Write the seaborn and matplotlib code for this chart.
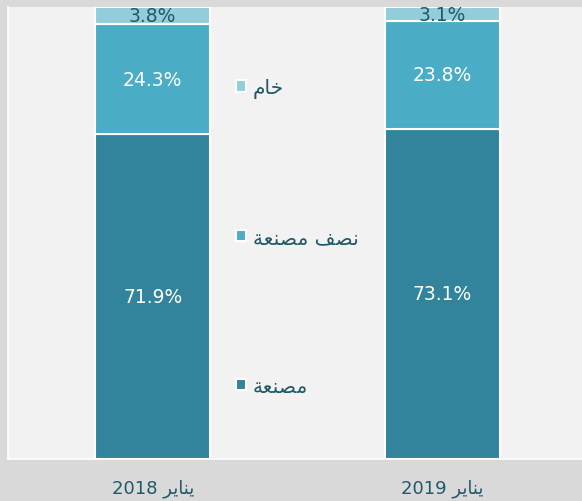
import numpy as np
import pandas as pd
import matplotlib.pyplot as plt
import seaborn as sns

# Arabic strings are written in presentation forms, in visual order,
# because matplotlib does no Arabic shaping or bidi.
years = ['2018 \uFEAE\uFEF3\uFE8E\uFEE8\uFEF3', '2019 \uFEAE\uFEF3\uFE8E\uFEE8\uFEF3']   # يناير 2018 / يناير 2019
series_names = ['\uFE94\uFECC\uFEE8\uFEBC\uFEE3',                    # مصنعة
                '\uFE94\uFECC\uFEE8\uFEBC\uFEE3 \uFED2\uFEBC\uFEE7',  # نصف مصنعة
                '\uFEE1\uFE8E\uFEA7']                                  # خام
manufactured = [71.9, 73.1]
semi_manufactured = [24.3, 23.8]
raw = [3.8, 3.1]

colors = ['#31849B', '#4BACC6', '#92CDDC']
label_colors = ['white', 'white', '#215968']
text_color = '#215968'

sns.set_theme(style='white')
plt.rcParams['font.family'] = ['DejaVu Sans']

fig = plt.figure(figsize=(5.82, 5.02), dpi=100, facecolor='#D9D9D9')
ax = fig.add_axes([8 / 582, 42 / 502, 574 / 582, 452 / 502])
ax.set_facecolor('#F2F2F2')

layers = [manufactured, semi_manufactured, raw]
bottom = np.zeros(len(years))
handles = []
for vals, name, col, lcol in zip(layers, series_names, colors, label_colors):
    df = pd.DataFrame({'year': years, 'value': vals})
    n_before = len(ax.containers)
    sns.barplot(data=df, x='year', y='value', color=col, width=0.397,
                saturation=1, bottom=bottom, edgecolor='white',
                linewidth=1.5, ax=ax)
    cont = ax.containers[n_before]
    handles.append(cont.patches[0])
    texts = ax.bar_label(cont, labels=[f'{v:.1f}%' for v in vals],
                         label_type='center', color=lcol, fontsize=13.5)
    for t in texts:
        t.set_clip_on(True)
    bottom = bottom + np.array(vals)

ax.set_xlim(-0.5, 1.483)
ax.set_ylim(0, 100)
ax.set_xlabel('')
ax.set_ylabel('')
ax.set_yticks([])
ax.tick_params(axis='x', length=0, pad=14, labelsize=13, labelcolor=text_color)

for side in ['top', 'right']:
    ax.spines[side].set_visible(False)
for side in ['left', 'bottom']:
    ax.spines[side].set_color('white')
    ax.spines[side].set_linewidth(1.2)

leg = ax.legend(handles[::-1], series_names[::-1], loc='upper left',
                bbox_to_anchor=(0.365, 0.883), frameon=False, fontsize=14.5,
                labelcolor=text_color, handlelength=0.5, handleheight=0.5,
                handletextpad=0.35, labelspacing=6.45)

fig.savefig('out.png', dpi=100, facecolor=fig.get_facecolor())
